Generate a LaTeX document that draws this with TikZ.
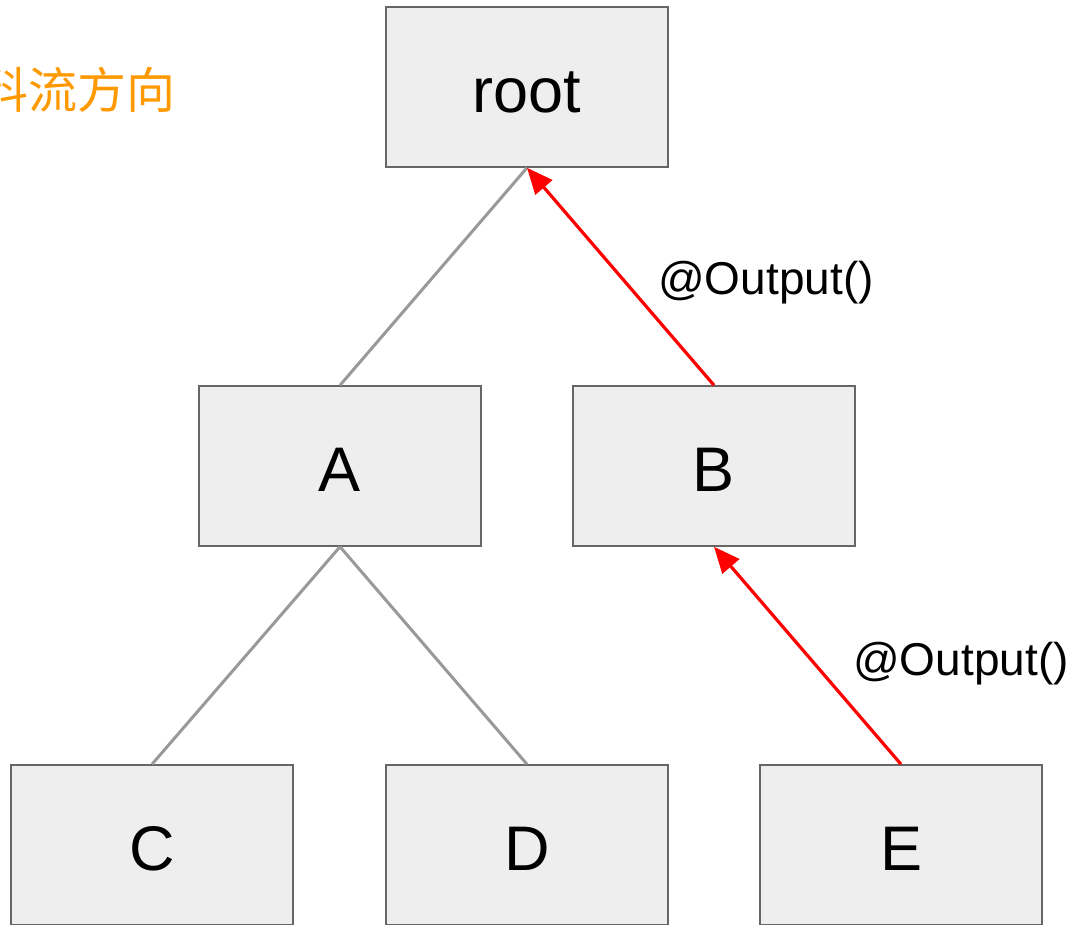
\documentclass[tikz,border=0pt]{standalone}
\usepackage{fontspec}
\setmainfont{Liberation Sans}
\newfontfamily\cjk{Noto Sans CJK SC}
\usetikzlibrary{arrows.meta}
\definecolor{boxfill}{HTML}{EEEEEE}
\definecolor{boxline}{HTML}{666666}
\definecolor{treeline}{HTML}{999999}
\definecolor{flowcol}{HTML}{FF9900}
\begin{document}
\begin{tikzpicture}[x=1pt,y=-1pt,
  treebox/.style={draw=boxline,line width=1.5pt,fill=boxfill,minimum width=282pt,minimum height=160pt,inner sep=0pt,text height=51pt,text depth=0pt,font=\fontsize{63}{70}\selectfont},
  treeedge/.style={draw=treeline,line width=3pt},
  outedge/.style={draw=red,line width=3.2pt,-{Triangle[length=26pt,width=22pt]}},
  outlabel/.style={font=\fontsize{46}{52}\selectfont,inner sep=0pt}]
\useasboundingbox (0,0) rectangle (1076,924);
\node[treebox] (root) at (527,87) {root};
\node[treebox] (A) at (340,466) {A};
\node[treebox] (B) at (714,466) {B};
\node[treebox] (C) at (152,845) {C};
\node[treebox] (D) at (527,845) {D};
\node[treebox] (E) at (901,845) {E};
\draw[treeedge] (root.south) -- (A.north);
\draw[treeedge] (A.south) -- (C.north);
\draw[treeedge] (A.south) -- (D.north);
\draw[outedge] (B.north) -- (root.south);
\draw[outedge] (E.north) -- (B.south);
\node[outlabel] (l1) at (766,283) {@Output()};
\node[outlabel] (l2) at (961,664) {@Output()};
\node[anchor=east,inner sep=0pt,text=flowcol,font=\cjk\fontsize{49}{54}\selectfont] (flow) at (176,90) {資料流方向};
\end{tikzpicture}
\end{document}
